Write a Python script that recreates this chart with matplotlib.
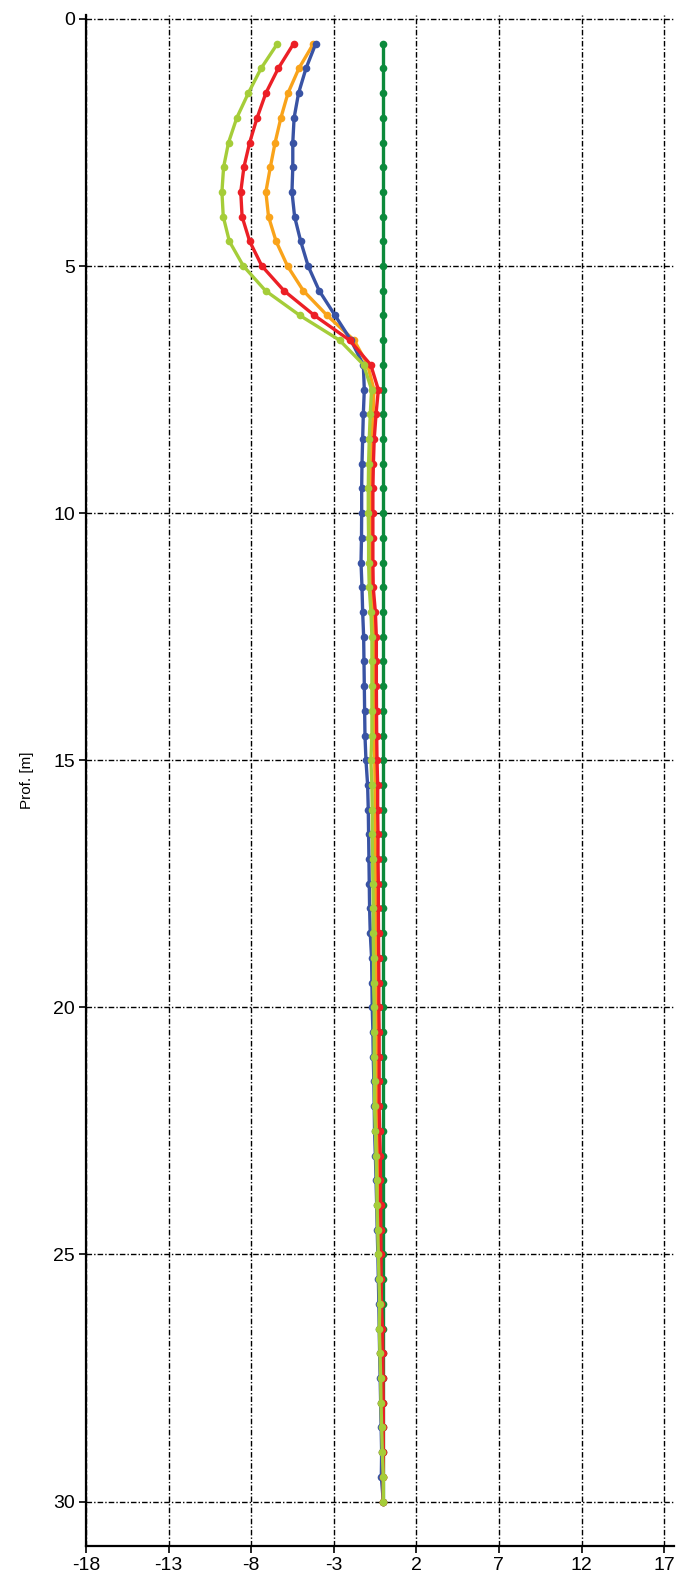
import matplotlib
matplotlib.use("Agg")
import matplotlib.pyplot as plt

plt.rcParams['font.family'] = ['Liberation Sans Narrow', 'Liberation Sans', 'DejaVu Sans']
plt.rcParams['axes.unicode_minus'] = False

depth = [0.5, 1.0, 1.5, 2.0, 2.5, 3.0, 3.5, 4.0, 4.5, 5.0,
         5.5, 6.0, 6.5, 7.0, 7.5, 8.0, 8.5, 9.0, 9.5, 10.0,
         10.5, 11.0, 11.5, 12.0, 12.5, 13.0, 13.5, 14.0, 14.5, 15.0,
         15.5, 16.0, 16.5, 17.0, 17.5, 18.0, 18.5, 19.0, 19.5, 20.0,
         20.5, 21.0, 21.5, 22.0, 22.5, 23.0, 23.5, 24.0, 24.5, 25.0,
         25.5, 26.0, 26.5, 27.0, 27.5, 28.0, 28.5, 29.0, 29.5, 30.0]

green = [0.0] * 60

blue = [-4.09, -4.68, -5.13, -5.40, -5.48, -5.48, -5.53, -5.37, -5.00, -4.55,
        -3.88, -2.92, -1.96, -1.21, -1.15, -1.21, -1.25, -1.29, -1.31, -1.31,
        -1.32, -1.35, -1.29, -1.25, -1.19, -1.17, -1.15, -1.13, -1.11, -1.05,
        -0.95, -0.91, -0.89, -0.87, -0.85, -0.83, -0.79, -0.71, -0.69, -0.67,
        -0.63, -0.61, -0.57, -0.55, -0.53, -0.48, -0.44, -0.40, -0.37, -0.33,
        -0.30, -0.27, -0.25, -0.22, -0.19, -0.16, -0.13, -0.10, -0.12, 0.0]

orange = [-4.23, -5.11, -5.77, -6.20, -6.55, -6.84, -7.11, -6.95, -6.49, -5.80,
          -4.84, -3.40, -1.77, -0.95, -0.57, -0.62, -0.68, -0.72, -0.74, -0.75,
          -0.75, -0.75, -0.72, -0.62, -0.56, -0.55, -0.55, -0.55, -0.54, -0.52,
          -0.50, -0.50, -0.49, -0.48, -0.47, -0.46, -0.45, -0.44, -0.43, -0.42,
          -0.41, -0.40, -0.39, -0.38, -0.37, -0.35, -0.33, -0.31, -0.29, -0.27,
          -0.25, -0.23, -0.21, -0.19, -0.16, -0.13, -0.10, -0.07, -0.04, 0.0]

red = [-5.43, -6.36, -7.11, -7.64, -8.09, -8.44, -8.63, -8.55, -8.09, -7.35,
       -6.01, -4.17, -2.04, -0.76, -0.30, -0.44, -0.55, -0.60, -0.63, -0.63,
       -0.63, -0.63, -0.61, -0.48, -0.42, -0.42, -0.42, -0.41, -0.40, -0.38,
       -0.34, -0.34, -0.32, -0.32, -0.30, -0.30, -0.29, -0.28, -0.27, -0.27,
       -0.25, -0.25, -0.25, -0.25, -0.22, -0.18, -0.17, -0.16, -0.15, -0.14,
       -0.13, -0.12, -0.05, -0.03, -0.02, 0.0, 0.0, 0.0, 0.0, 0.0]

lime = [-6.41, -7.40, -8.17, -8.87, -9.37, -9.67, -9.77, -9.69, -9.32, -8.47,
        -7.13, -5.05, -2.65, -1.19, -0.71, -0.79, -0.85, -0.89, -0.91, -0.91,
        -0.89, -0.89, -0.85, -0.75, -0.69, -0.69, -0.69, -0.69, -0.69, -0.75,
        -0.69, -0.67, -0.67, -0.65, -0.63, -0.61, -0.61, -0.59, -0.59, -0.55,
        -0.55, -0.55, -0.53, -0.53, -0.48, -0.44, -0.40, -0.38, -0.34, -0.30,
        -0.26, -0.22, -0.24, -0.20, -0.16, -0.14, -0.10, -0.06, 0.0, 0.0]

x_ticks = [-18, -13, -8, -3, 2, 7, 12, 17]
y_ticks = [0, 5, 10, 15, 20, 25, 30]

fig = plt.figure(figsize=(6.87, 15.85), dpi=100)
ax = fig.add_axes([86 / 687, 1 - 1546 / 1585, (674 - 86) / 687, (1546 - 15) / 1585])

grid_style = dict(color='black', linewidth=1.0, linestyle=(0, (4, 1.5, 1, 1.5)))
for xv in x_ticks:
    ax.axvline(xv, zorder=1, **grid_style)
for yv in y_ticks:
    ax.axhline(yv, zorder=1, **grid_style)

series = [(green, '#0b8a3b'), (orange, '#f9a31a'), (blue, '#3953a4'),
          (red, '#ec1f26'), (lime, '#a5cd39')]
for i, (vals, col) in enumerate(series):
    ax.plot(vals, depth, color=col, linewidth=2.4, marker='o', markersize=5.5,
            markeredgewidth=0, zorder=3 + i)

ax.set_xlim(-18, 17.6)
ax.set_ylim(30.9, -0.08)
ax.set_xticks(x_ticks)
ax.set_yticks(y_ticks)
ax.tick_params(axis='both', labelsize=14, length=5, width=1.2, color='black', pad=3)
ax.spines['top'].set_visible(False)
ax.spines['right'].set_visible(False)
ax.spines['left'].set_linewidth(1.6)
ax.spines['bottom'].set_linewidth(1.6)
ax.set_ylabel('Prof. [m]', fontsize=11, labelpad=14)

fig.savefig('out.png', dpi=100)
